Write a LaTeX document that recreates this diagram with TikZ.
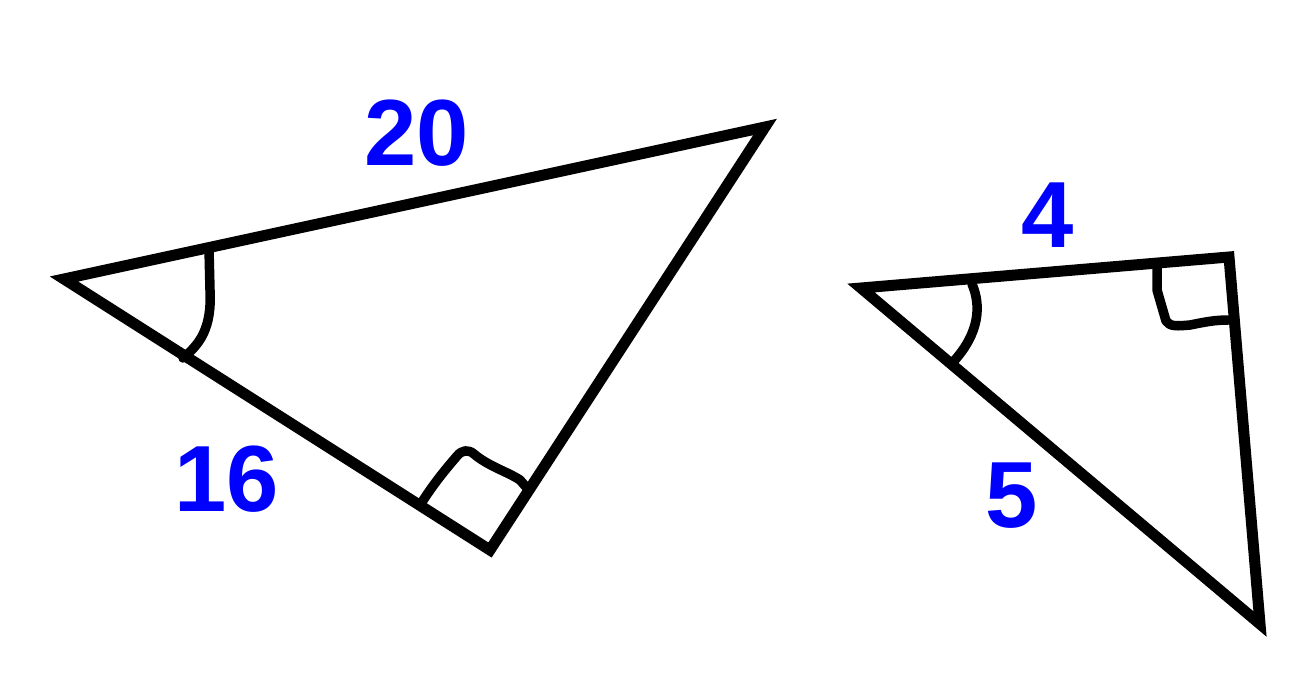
\documentclass[tikz,border=0pt]{standalone}
\usepackage{fontspec}
\setmainfont{Liberation Sans}
\definecolor{lblblue}{RGB}{0,0,255}
\tikzset{
  side/.style={line width=11pt, line join=miter, miter limit=20},
  anglemark/.style={line width=9.5pt, line cap=round, line join=round},
  lbl/.style={text=lblblue, font=\fontsize{94}{94}\selectfont\bfseries, inner sep=0pt}
}
\begin{document}
\begin{tikzpicture}[x=1pt,y=-1pt]
\useasboundingbox (0,0) rectangle (1316,672);
% triangle 1
\coordinate (A) at (64,279);
\coordinate (B) at (765,127);
\coordinate (C) at (490,550);
\draw[side] (A) -- (B) -- (C) -- cycle;
% angle mark at A
\draw[anglemark] (209,249) -- (210,290) .. controls (212,328) and (200,344) .. (183,358);
% right angle mark at C
\draw[anglemark] (422,502) .. controls (435,482) and (445,470) .. (457,456) .. controls (462,450) and (468,449) .. (474,454) .. controls (488,466) and (508,472) .. (520,480) -- (527,488);
% triangle 2
\coordinate (D) at (861,288);
\coordinate (E) at (1229,257);
\coordinate (F) at (1260,624);
\draw[side] (D) -- (E) -- (F) -- cycle;
% angle mark at D
\draw[anglemark] (972,284) .. controls (981,305) and (980,332) .. (954,361);
% right angle mark at E
\draw[anglemark] (1157,266) -- (1157,290) -- (1166,321) .. controls (1170,327) and (1178,326) .. (1190,325) .. controls (1205,322) and (1215,320) .. (1228,320);
% labels
\node[lbl] (l20) at (417,133) {20};
\node[lbl] (l16) at (227,479) {16};
\node[lbl] (l4) at (1048,215) {4};
\node[lbl] (l5) at (1012,496) {5};
\end{tikzpicture}
\end{document}
